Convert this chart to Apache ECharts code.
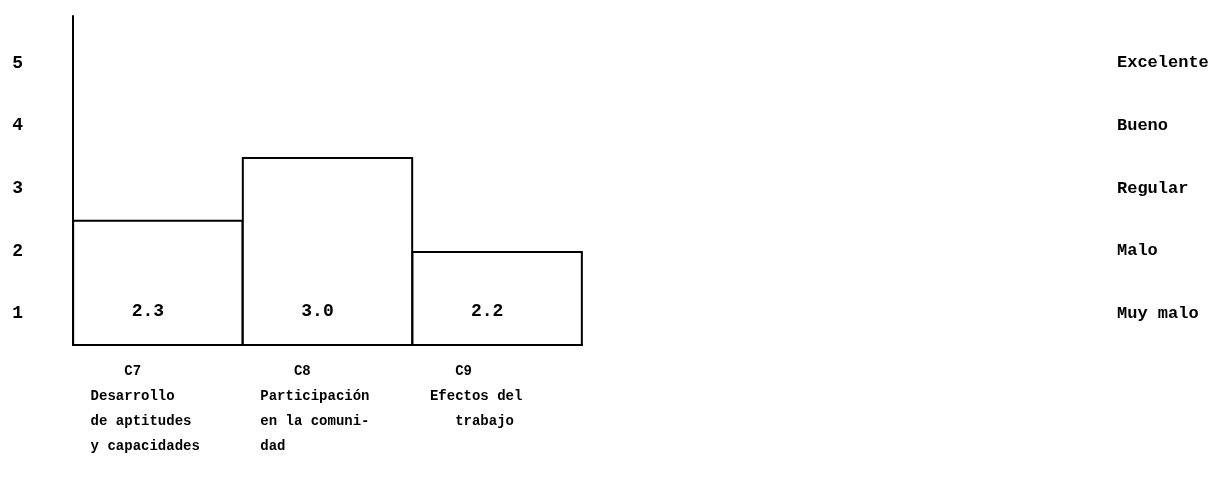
<!DOCTYPE html>
<html>
<head>
<meta charset="utf-8">
<script src="https://cdn.jsdelivr.net/npm/echarts@6/dist/echarts.min.js"></script>
<style>
  html, body { margin: 0; padding: 0; background: #fff; }
  #chart { width: 1225px; height: 487px; }
</style>
</head>
<body>
<div id="chart"></div>
<script>
// Data
// ----------
var categories = ['C7', 'C8', 'C9']
// text under each bar, one entry per line
var categoryLines = [
    ['    C7', 'Desarrollo', 'de aptitudes', 'y capacidades'],
    ['    C8', 'Participación', 'en la comuni-', 'dad'],
    ['   C9', 'Efectos del', '   trabajo']
]
// bar tops as drawn against the 1..5 scale
var barHeights = [2.5, 3.5, 2.0]
// numbers printed inside the bars
var printedValues = ['2.3', '3.0', '2.2']
var scaleTicks = [1, 2, 3, 4, 5]
var ratingNames = ['Muy malo', 'Malo', 'Regular', 'Bueno', 'Excelente']

var FONT = '"Liberation Mono", "DejaVu Sans Mono", monospace'

var chart = echarts.init(document.getElementById('chart'), null, { renderer: 'canvas' })

// pad every line to the same length so centred lines read as a left block
function blockText(lines) {
    return lines.map(function (l) { return l.padEnd(16, ' ') }).join('\n')
}

var option = {
    backgroundColor: '#ffffff',
    animation: false,
    grid: { left: 73, right: 643, top: 16, bottom: 142 },
    xAxis: {
        type: 'category',
        data: categories,
        axisLine: { show: true, lineStyle: { color: '#000', width: 2 } },
        axisTick: { show: false },
        axisLabel: {
            interval: 0,
            margin: 14,
            color: '#000',
            fontFamily: FONT,
            fontWeight: 'bold',
            fontSize: 14,
            lineHeight: 25,
            align: 'center',
            formatter: function (v, i) { return blockText(categoryLines[i]) }
        }
    },
    yAxis: [{
        type: 'value',
        min: 0.5,
        max: 5.75,
        interval: 0.25,
        axisLine: { show: true, lineStyle: { color: '#000', width: 2 } },
        axisTick: { show: false },
        splitLine: { show: false },
        axisLabel: {
            margin: 50,
            color: '#000',
            fontFamily: FONT,
            fontWeight: 'bold',
            fontSize: 18,
            formatter: function (v) {
                return scaleTicks.indexOf(v) >= 0 ? String(v) : ''
            }
        }
    }, {
        type: 'value',
        position: 'right',
        min: 0.5,
        max: 5.75,
        interval: 0.25,
        axisLine: { show: false },
        axisTick: { show: false },
        splitLine: { show: false },
        axisLabel: {
            margin: 535,
            align: 'left',
            color: '#000',
            fontFamily: FONT,
            fontWeight: 'bold',
            fontSize: 17,
            formatter: function (v) {
                var k = scaleTicks.indexOf(v)
                return k >= 0 ? ratingNames[k] : ''
            }
        }
    }],
    series: [{
        type: 'bar',
        data: barHeights,
        barWidth: '101%',
        itemStyle: { color: '#fff', borderColor: '#000', borderWidth: 2 },
        label: {
            show: true,
            position: 'insideBottom',
            distance: 26,
            offset: [-10, 0],
            color: '#000',
            fontFamily: FONT,
            fontWeight: 'bold',
            fontSize: 18,
            formatter: function (p) { return printedValues[p.dataIndex] }
        }
    }]
}

chart.setOption(option)
</script>
</body>
</html>
